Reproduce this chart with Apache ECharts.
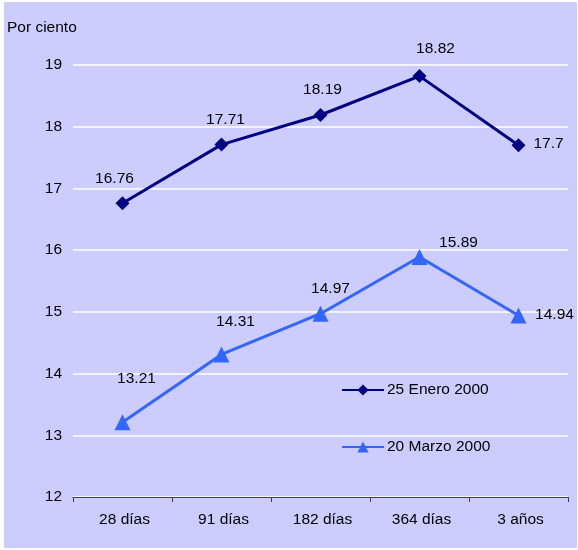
<!DOCTYPE html>
<html>
<head>
<meta charset="utf-8">
<script src="https://cdn.jsdelivr.net/npm/echarts@6/dist/echarts.min.js"></script>
<style>html,body{margin:0;padding:0;background:#fff;}#c{width:578px;height:550px;}</style>
</head>
<body>
<div id="c"></div>
<script>
const categories = ['28 días', '91 días', '182 días', '364 días', '3 años'];
const enero = [16.76, 17.71, 18.19, 18.82, 17.7];
const marzo = [13.21, 14.31, 14.97, 15.89, 14.94];
const seriesNames = ['25 Enero 2000', '20 Marzo 2000'];
const yTicks = [12, 13, 14, 15, 16, 17, 18, 19];

// label placement relative to each marker (styling only)
const eneroLabelOffsets = [[-8, -25], [4, -25], [2, -25], [16, -27], [30, -2]];
const marzoLabelOffsets = [[14, -44], [14, -33], [10, -25], [39, -14], [36, -1]];

function withLabels(values, offsets) {
  return values.map((v, i) => ({
    value: v,
    label: { offset: offsets[i] }
  }));
}

const chart = echarts.init(document.getElementById('c'), null, { renderer: 'canvas' });
const font = 'Liberation Sans, Arial, sans-serif';
const fs = 15.5;
const labelStyle = { show: true, position: 'inside', fontSize: fs, color: '#000', fontFamily: font };
chart.setOption({
  backgroundColor: '#ffffff',
  animation: false,
  textStyle: { fontFamily: font },
  graphic: [{
    type: 'rect', z: -10, silent: true,
    shape: { x: 4, y: 2, width: 573, height: 546 },
    style: { fill: '#CCCCFF' }
  }, {
    type: 'text', x: 7, y: 28,
    style: { text: 'Por ciento', fontSize: fs, fontFamily: font, fill: '#000', verticalAlign: 'middle' }
  }],
  grid: { left: 73, right: 10, top: 65, bottom: 53 },
  legend: {
    orient: 'vertical',
    left: 341, top: 382,
    padding: 0,
    itemGap: 41,
    itemWidth: 42, itemHeight: 14,
    textStyle: { fontSize: fs, color: '#000', fontFamily: font, padding: [0, 0, 0, -2] },
    data: seriesNames
  },
  xAxis: {
    type: 'category',
    data: categories,
    boundaryGap: true,
    axisLine: { lineStyle: { color: '#404040', width: 1 } },
    axisTick: { show: true, length: 5, lineStyle: { color: '#404040' } },
    axisLabel: { fontSize: fs, color: '#000', margin: 15, fontFamily: font, padding: [0, 0, 0, 4] }
  },
  yAxis: {
    type: 'value',
    min: yTicks[0], max: yTicks[yTicks.length - 1], interval: 1,
    axisLine: { show: false },
    axisTick: { show: false },
    splitLine: { lineStyle: { color: '#ffffff', width: 1.5 } },
    axisLabel: { fontSize: fs, color: '#000', margin: 11, fontFamily: font }
  },
  series: [{
    name: seriesNames[0],
    type: 'line',
    data: withLabels(enero, eneroLabelOffsets),
    symbol: 'diamond', symbolSize: 14,
    lineStyle: { color: '#000080', width: 3 },
    itemStyle: { color: '#000080' },
    label: labelStyle,
    z: 3
  }, {
    name: seriesNames[1],
    type: 'line',
    data: withLabels(marzo, marzoLabelOffsets),
    symbol: 'triangle', symbolSize: 16,
    lineStyle: { color: '#3366FF', width: 3 },
    itemStyle: { color: '#3366FF' },
    label: labelStyle,
    z: 2
  }]
});
</script>
</body>
</html>
